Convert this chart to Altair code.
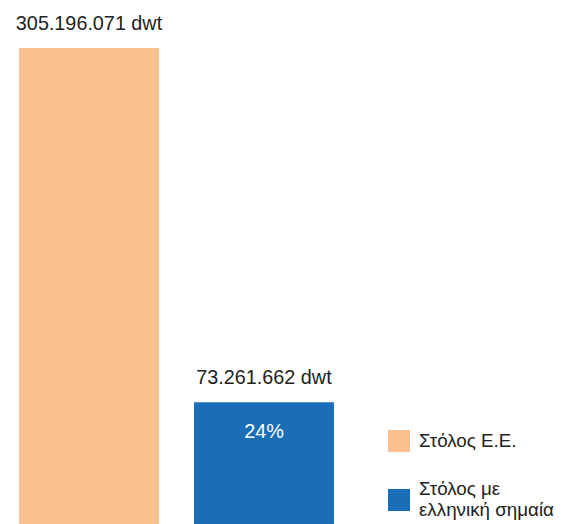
import altair as alt
import pandas as pd

categories = ["Στόλος Ε.Ε.", "Στόλος με ελληνική σημαία"]
values = [305196071, 73261662]
top_labels = ["305.196.071 dwt", "73.261.662 dwt"]
inner_labels = ["", "24%"]
colors = ["#FAC090", "#1A6EB7"]

df = pd.DataFrame({
    "cat": categories,
    "value": values,
    "top": top_labels,
    "inner": inner_labels,
})

ymax = 305196071
ymin = -6550000
FONT = "Liberation Sans"

base = alt.Chart(df).encode(
    x=alt.X("cat:N", sort=categories, axis=None,
            scale=alt.Scale(paddingInner=0.2, paddingOuter=0.063)),
)
yenc = alt.Y("value:Q", axis=None,
             scale=alt.Scale(domain=[ymin, ymax], nice=False, zero=False))

bars = base.mark_bar().encode(
    y=yenc,
    y2=alt.datum(ymin),
    color=alt.Color("cat:N", sort=categories,
                    scale=alt.Scale(domain=categories, range=colors),
                    legend=alt.Legend(
                        title=None, orient="none", legendX=380, legendY=382,
                        symbolType="square", symbolSize=484, symbolStrokeWidth=0,
                        symbolOpacity=1,
                        labelFont=FONT, labelFontSize=18.8, labelColor="#222222",
                        labelOffset=9, rowPadding=28, labelLimit=300,
                        labelBaseline=alt.ExprRef(expr="datum.value == 'Στόλος με ελληνική σημαία' ? 'line-bottom' : 'middle'"),
                        labelExpr="datum.label == 'Στόλος με ελληνική σημαία' ? ['Στόλος με', 'ελληνική σημαία'] : datum.label",
                    )),
)

top_text = base.mark_text(dy=-24, baseline="middle", font=FONT, fontSize=19.8,
                          color="#222222").encode(y=yenc, text="top:N")

inner_text = base.mark_text(dy=30, baseline="middle", font=FONT, fontSize=19.8,
                            color="#ffffff").encode(y=yenc, text="inner:N")

chart = (bars + top_text + inner_text).properties(
    width=337, height=476,
    padding={"top": 6, "left": 0, "right": 0, "bottom": 0},
).configure_view(stroke=None)

chart.save("out.html", embed_options={"renderer": "svg", "actions": False})
